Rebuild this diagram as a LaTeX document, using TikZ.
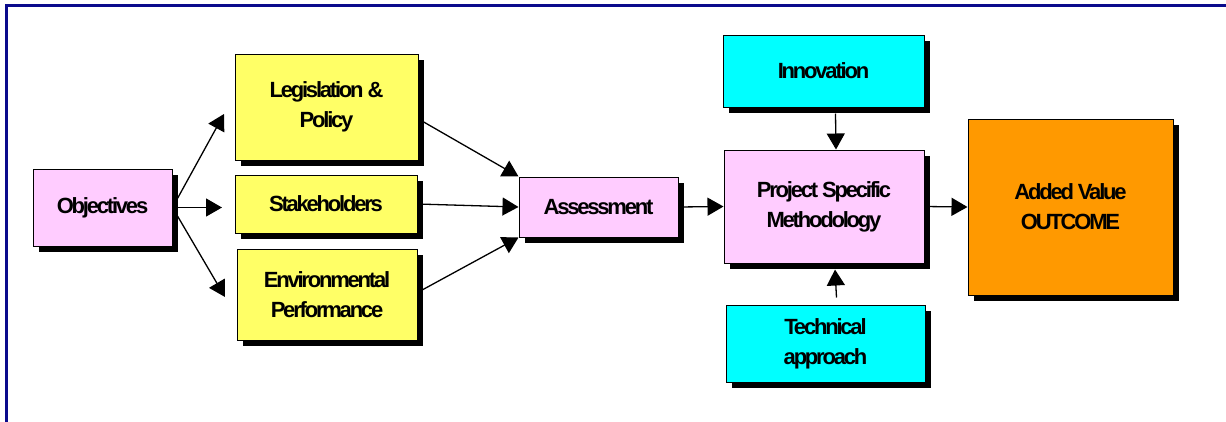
\documentclass[tikz,border=0pt]{standalone}
\usepackage{fontspec}
\newfontfamily\boxfont{Liberation Sans}[LetterSpace=-10]
\usetikzlibrary{calc, shadows, arrows.meta}

\definecolor{boxyellow}{HTML}{FFFF66}
\definecolor{boxpink}{HTML}{FFCCFF}
\definecolor{boxcyan}{HTML}{00FFFF}
\definecolor{boxorange}{HTML}{FF9900}
\definecolor{framenavy}{HTML}{0A0A8C}

\tikzset{
  box/.style={draw=black, line width=1pt, inner sep=0pt, align=center,
    font=\boxfont\bfseries\fontsize{22}{30}\selectfont,
    drop shadow={shadow xshift=6pt, shadow yshift=-6pt, fill=black, opacity=1}},
  link/.style={line width=1.3pt, -{Triangle[length=16pt, width=18pt]}}
}

\begin{document}
\begin{tikzpicture}[x=1pt, y=-1pt]
  \useasboundingbox (0,0) rectangle (1226,421);

  % outer frame
  \draw[framenavy, line width=3pt] (6.5,430) -- (6.5,5.5) -- (1235,5.5);

  % input boxes
  \node[box, fill=boxpink, minimum width=139pt, minimum height=77pt] (obj) at (102.5,207.5) {Objectives};
  \node[box, fill=boxyellow, minimum width=183pt, minimum height=106pt] (leg) at (326.5,107) {Legislation \&\\Policy};
  \node[box, fill=boxyellow, minimum width=182pt, minimum height=58pt] (stk) at (326,204) {Stakeholders};
  \node[box, fill=boxyellow, minimum width=180pt, minimum height=91pt] (env) at (327,294.5) {Environmental\\Performance};
  \node[box, fill=boxpink, minimum width=159pt, minimum height=60pt] (ass) at (598.5,207) {Assessment};

  % method boxes
  \node[box, fill=boxcyan, minimum width=201pt, minimum height=72pt] (inn) at (823.5,71) {Innovation};
  \node[box, fill=boxpink, minimum width=200pt, minimum height=113pt] (psm) at (824,206.5) {Project Specific\\Methodology};
  \node[box, fill=boxcyan, minimum width=199pt, minimum height=77pt] (tec) at (825.5,343.5) {Technical\\approach};
  \node[box, fill=boxorange, minimum width=205pt, minimum height=176pt] (out) at (1070.5,207) {Added Value\\OUTCOME};

  % free arrow tips in front of the yellow boxes
  \coordinate (t0) at (224,114);
  \coordinate (t1) at (222,207.5);
  \coordinate (t2) at (225,297);

  % fan out from objectives
  \draw[link, shorten <=5pt] (obj.east) -- (t0);
  \draw[link, shorten <=5pt] (obj.east) -- (t1);
  \draw[link, shorten <=5pt] (obj.east) -- (t2);
  % into assessment
  \draw[link] ($(leg.east)+(0,12)$) -- (ass.north west);
  \draw[link, shorten <=5pt] (stk.east) -- (ass.west);
  \draw[link] ($(env.east)+(0,-2)$) -- (ass.south west);
  % through the methodology
  \draw[link, shorten <=5pt] (ass.east) -- (psm.west);
  \draw[link] ([xshift=12pt, yshift=-6pt]inn.south) -- ([xshift=12pt]psm.north);
  \draw[link] ([xshift=11pt, yshift=7pt]tec.north) -- ([xshift=11pt, yshift=-6pt]psm.south);
  \draw[link, shorten <=5pt] (psm.east) -- (out.west);
\end{tikzpicture}
\end{document}
